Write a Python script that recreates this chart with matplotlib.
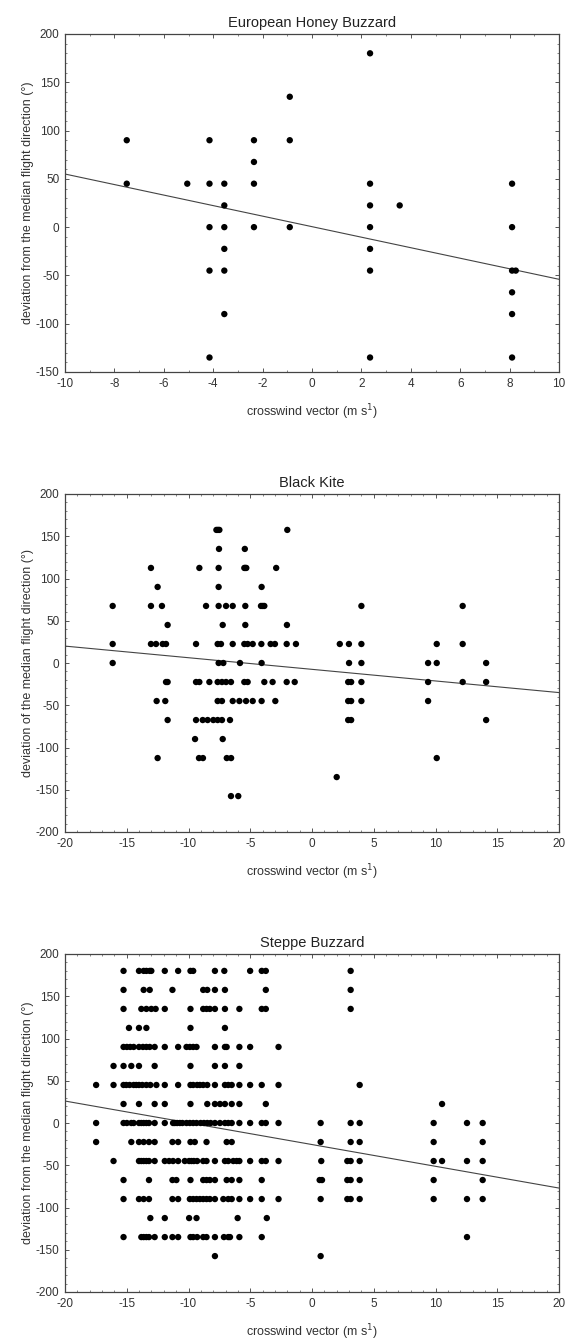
import matplotlib
matplotlib.use("Agg")
import matplotlib.pyplot as plt
from matplotlib.ticker import MultipleLocator, AutoMinorLocator
import numpy as np

plt.rcParams['font.family'] = ['Liberation Sans', 'DejaVu Sans']
plt.rcParams['axes.unicode_minus'] = False

# European Honey Buzzard: columns of points (x -> list of y)
hb_cols = [-7.5, -5.05, -4.15, -3.55, -2.35, -0.9, 2.35, 3.55, 8.1, 8.25]
hb_vals = [
    [90, 45],
    [45],
    [90, 45, 0, -45, -135],
    [45, 22.5, 0, -22.5, -45, -90],
    [90, 67.5, 45, 0],
    [135, 90, 0],
    [180, 45, 22.5, 0, -22.5, -45, -135],
    [22.5],
    [45, 0, -45, -67.5, -90, -135],
    [-45],
]
hb_fit = [55, -54]  # regression line at x=-10 and x=10

# Black Kite: rows of points (y level -> list of x)
bk_levels = [157.5, 135, 112.5, 90, 67.5, 45, 22.5, 0, -22.5, -45, -67.5, -90, -112.5, -135, -157.5]
bk_rows = [
    [-7.74, -7.62, -7.5, -2.0],
    [-7.53, -5.44],
    [-13.04, -9.12, -7.56, -5.48, -5.4, -5.32, -2.9],
    [-12.5, -7.56, -4.08],
    [-16.14, -13.04, -12.15, -8.58, -7.56, -6.96, -6.42, -5.4, -4.13, -3.99, -3.86, 4.0, 12.2],
    [-11.69, -7.23, -5.4, -2.03],
    [-16.14, -13.04, -12.63, -12.09, -11.82, -9.39, -7.64, -7.37, -6.42, -5.48, -5.21, -4.8,
     -4.1, -3.35, -3.0, -2.05, -1.3, 2.25, 2.99, 4.0, 10.1, 12.2],
    [-16.14, -7.56, -7.18, -5.83, -4.08, 3.0, 4.0, 9.4, 10.1, 14.1],
    [-11.82, -11.69, -9.39, -9.12, -8.31, -7.64, -7.29, -6.96, -6.56, -5.48, -5.21, -3.86,
     -3.19, -2.05, -1.4, 2.93, 3.17, 4.0, 9.4, 12.2, 14.1],
    [-12.58, -11.88, -7.64, -7.29, -6.42, -5.88, -5.34, -4.8, -4.08, -2.97, 2.93, 3.17, 4.0, 9.4],
    [-11.69, -9.39, -8.85, -8.45, -7.99, -7.64, -7.29, -6.64, 2.93, 3.17, 14.1],
    [-9.47, -7.23],
    [-12.5, -9.15, -8.83, -6.9, -6.55, 10.1],
    [2.0],
    [-6.56, -5.97],
]
bk_fit = [20, -35]  # x=-20 and x=20

# Steppe Buzzard: rows of points (y level -> list of x)
sb_levels = [180, 157.5, 135, 112.5, 90, 67.5, 45, 22.5, 0, -22.5, -45, -67.5, -90, -112.5, -135, -157.5]
sb_rows = [
    [-15.26, -14.01, -13.63, -13.41, -13.14, -13.01, -11.92, -10.84, -9.84, -9.62, -7.86, -7.1,
     -5.01, -4.07, -3.74, 3.13],
    [-15.26, -13.63, -13.14, -11.3, -8.81, -8.48, -7.86, -7.05, -3.74, 3.13],
    [-15.26, -13.82, -13.41, -13.01, -12.66, -11.92, -9.84, -8.81, -8.54, -8.27, -7.86, -7.05,
     -5.88, -4.07, -3.74, 3.13],
    [-14.82, -14.01, -13.41, -9.84, -7.05],
    [-15.26, -14.99, -14.72, -14.44, -14.01, -13.69, -13.41, -13.14, -12.74, -11.92, -10.84,
     -10.16, -9.89, -9.62, -9.35, -7.86, -7.05, -6.91, -5.88, -5.01, -2.71],
    [-16.07, -15.26, -14.63, -14.01, -12.74, -9.84, -7.86, -7.05, -5.88],
    [-17.48, -16.07, -15.26, -15.04, -14.77, -14.44, -14.23, -14.01, -13.74, -13.41, -13.09,
     -12.6, -11.92, -10.84, -9.84, -9.62, -9.3, -9.08, -8.81, -8.48, -7.86, -7.05, -6.78, -6.5,
     -5.88, -5.01, -4.07, -2.71, 3.86],
    [-15.26, -14.01, -12.74, -11.92, -9.84, -8.48, -7.86, -7.45, -7.05, -6.5, -5.88, -3.74, 10.53],
    [-17.48, -15.26, -14.99, -14.63, -14.44, -14.01, -13.82, -13.63, -13.41, -13.2, -12.74,
     -11.92, -11.25, -11.11, -10.92, -10.7, -10.49, -10.16, -9.89, -9.62, -9.35, -9.02, -8.75,
     -8.48, -8.21, -7.86, -7.45, -7.05, -6.78, -6.5, -5.88, -5.01, -4.07, -3.74, -2.71, 0.7,
     3.13, 3.86, 9.85, 12.55, 13.82],
    [-17.48, -14.63, -14.01, -13.63, -13.2, -12.74, -11.3, -10.84, -9.84, -9.49, -8.54, -6.91,
     -6.5, 0.7, 3.13, 3.86, 9.85, 13.82],
    [-16.07, -14.01, -13.82, -13.63, -13.41, -13.2, -12.74, -11.92, -11.57, -11.25, -10.84,
     -10.3, -9.95, -9.76, -9.57, -9.3, -8.81, -8.54, -7.86, -7.05, -6.78, -6.37, -6.1, -5.88,
     -5.01, -4.07, -3.74, -2.71, 0.75, 2.86, 3.13, 3.86, 9.85, 10.53, 12.55, 13.82],
    [-15.26, -13.2, -11.3, -10.98, -9.84, -8.81, -8.54, -8.27, -7.86, -6.91, -6.5, -5.88, -4.07,
     0.62, 0.81, 2.86, 3.13, 3.86, 9.85, 13.82],
    [-15.26, -14.01, -13.63, -13.2, -11.3, -10.84, -9.89, -9.62, -9.35, -9.08, -8.81, -8.54,
     -8.27, -7.86, -7.18, -6.78, -6.5, -5.88, -5.01, -4.07, -2.71, 0.7, 2.86, 3.13, 3.86, 9.85,
     12.55, 13.82],
    [-13.09, -11.92, -9.95, -9.35, -6.02, -3.66],
    [-15.26, -13.82, -13.63, -13.41, -13.2, -12.74, -11.92, -11.3, -10.84, -9.84, -9.62, -9.3,
     -8.81, -8.54, -7.86, -7.13, -6.78, -6.64, -5.88, -4.07, 12.55],
    [-7.86, 0.7],
]
sb_fit = [26, -77]  # x=-20 and x=20

titles = ["European Honey Buzzard", "Black Kite", "Steppe Buzzard"]
ylabels = ["deviation from the median flight direction (°)",
           "deviation of the median flight direction (°)",
           "deviation from the median flight direction (°)"]
xlabel = "crosswind vector (m s$^{1}$)"


def cols_to_xy(cols, vals):
    xs, ys = [], []
    for c, v in zip(cols, vals):
        xs += [c] * len(v)
        ys += v
    return xs, ys


def rows_to_xy(levels, rows):
    xs, ys = [], []
    for lv, r in zip(levels, rows):
        xs += r
        ys += [lv] * len(r)
    return xs, ys


panels = [
    (cols_to_xy(hb_cols, hb_vals), hb_fit, (-10, 10), (-150, 200), 2, 2),
    (rows_to_xy(bk_levels, bk_rows), bk_fit, (-20, 20), (-200, 200), 5, 5),
    (rows_to_xy(sb_levels, sb_rows), sb_fit, (-20, 20), (-200, 200), 5, 5),
]

fig = plt.figure(figsize=(5.71, 13.4), dpi=100)
left, width, height = 65 / 571, 494 / 571, 338 / 1340
bottoms = [1 - 372 / 1340, 1 - 832 / 1340, 1 - 1292 / 1340]

txt = '#222222'
for i, ((xs, ys), fit, xlim, ylim, xmaj, xmin_div) in enumerate(panels):
    ax = fig.add_axes([left, bottoms[i], width, height])
    ax.plot(xlim, fit, color='#444444', lw=0.8, zorder=2)
    ax.scatter(xs, ys, s=21, color='black', edgecolors='none', zorder=3, clip_on=False)
    ax.set_xlim(*xlim)
    ax.set_ylim(*ylim)
    ax.xaxis.set_major_locator(MultipleLocator(xmaj))
    ax.xaxis.set_minor_locator(AutoMinorLocator(xmin_div))
    ax.yaxis.set_major_locator(MultipleLocator(50))
    ax.yaxis.set_minor_locator(AutoMinorLocator(5))
    ax.tick_params(which='both', direction='in', top=True, right=True,
                   colors='#555555', labelcolor='#333333', labelsize=8.5)
    ax.tick_params(which='major', length=3, width=0.7, pad=4)
    ax.tick_params(which='minor', length=1.6, width=0.5)
    for sp in ax.spines.values():
        sp.set_color('#444444')
        sp.set_linewidth(0.9)
    ax.set_title(titles[i], fontsize=10.5, color=txt, pad=5)
    ax.set_ylabel(ylabels[i], fontsize=9, color='#333333', labelpad=1)
    ax.set_xlabel(xlabel, fontsize=9, color='#333333', labelpad=9)

fig.savefig("out.png", dpi=100, facecolor='white')
